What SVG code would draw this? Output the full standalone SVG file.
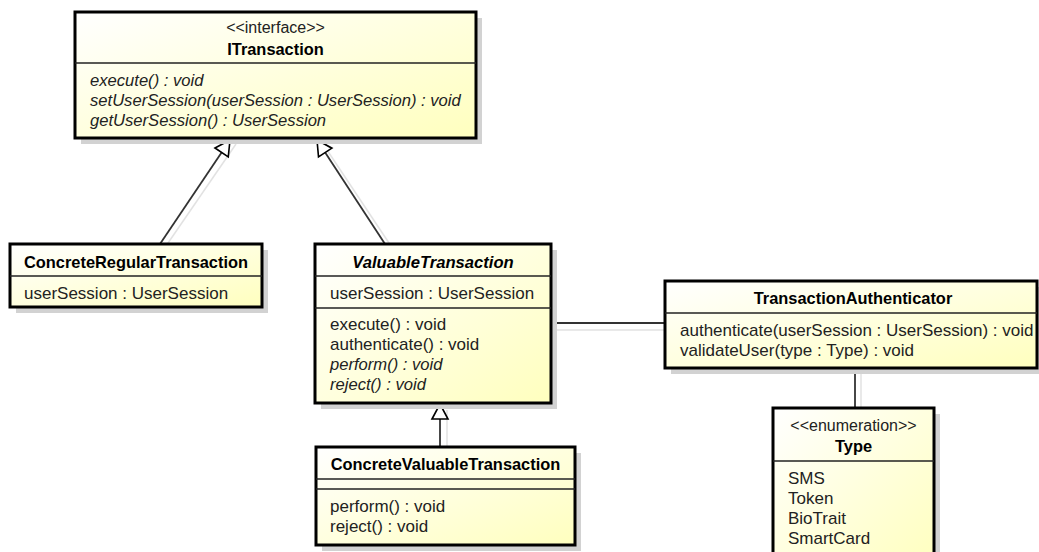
<svg xmlns="http://www.w3.org/2000/svg" width="1039" height="552" viewBox="0 0 1039 552">
<defs>
<linearGradient id="fill" x1="0" y1="0" x2="1" y2="1">
<stop offset="0" stop-color="#ffffff"/>
<stop offset="1" stop-color="#ffffbe"/>
</linearGradient>
<marker id="gen" viewBox="-1 -1 18 18" refX="15" refY="8" markerWidth="18" markerHeight="18" markerUnits="userSpaceOnUse" orient="auto" overflow="visible">
<path d="M0,0 L15,8 L0,16 Z" fill="#ffffff" stroke="#000" stroke-width="1.6" stroke-linejoin="miter"/>
</marker>
</defs>
<style>
.box{fill:url(#fill);stroke:#000;stroke-width:3}
.sh{fill:#d2d2d2}
.div{stroke:#222;stroke-width:1.5}
text{font-family:"Liberation Sans",Arial,sans-serif;font-size:17px;fill:#222}
.st{font-size:16px}
.b{font-weight:bold;fill:#000;font-size:16.4px}
.i{font-style:italic;font-size:16.6px}
.c{text-anchor:middle}
.con{stroke:#333;stroke-width:1.8;fill:none}
.csh{stroke:#e2e2e2;stroke-width:1.5;fill:none}
</style>
<rect width="1039" height="552" fill="#ffffff"/>

<g id="connector-shadows">
<line class="csh" x1="166" y1="246" x2="236" y2="144"/>
<line class="csh" x1="391" y1="246" x2="323" y2="144"/>
<line class="csh" x1="447" y1="449" x2="447" y2="410"/>
<line class="csh" x1="556" y1="330" x2="672" y2="330"/>
<line class="csh" x1="861" y1="370" x2="861" y2="410"/>
</g>

<g id="connectors">
<line class="con" x1="160" y1="244" x2="230" y2="140" marker-end="url(#gen)"/>
<line class="con" x1="385" y1="244" x2="317" y2="140" marker-end="url(#gen)"/>
<line class="con" x1="440" y1="447" x2="440" y2="404" marker-end="url(#gen)"/>
<line class="con" x1="551" y1="323" x2="665" y2="323"/>
<line class="con" x1="855" y1="368" x2="855" y2="408"/>
</g>

<g id="ITransaction">
<rect class="sh" x="81" y="18" width="401" height="126"/>
<rect class="box" x="75" y="12" width="401" height="126"/>
<line class="div" x1="75" y1="63" x2="476" y2="63"/>
<text class="st c" x="275.5" y="33">&lt;&lt;interface&gt;&gt;</text>
<text class="b c" x="275.5" y="54.5">ITransaction</text>
<text class="i" x="90" y="86">execute() : void</text>
<text class="i" x="90" y="106">setUserSession(userSession : UserSession) : void</text>
<text class="i" x="90" y="126">getUserSession() : UserSession</text>
</g>

<g id="ConcreteRegularTransaction">
<rect class="sh" x="16" y="250" width="252" height="63"/>
<rect class="box" x="10" y="244" width="252" height="63"/>
<line class="div" x1="10" y1="276" x2="262" y2="276"/>
<text class="b c" x="136" y="267.5">ConcreteRegularTransaction</text>
<text x="24" y="298.5">userSession : UserSession</text>
</g>

<g id="ValuableTransaction">
<rect class="sh" x="321" y="250" width="236" height="159"/>
<rect class="box" x="315" y="244" width="236" height="159"/>
<line class="div" x1="315" y1="276" x2="551" y2="276"/>
<line class="div" x1="315" y1="308" x2="551" y2="308"/>
<text class="b i c" x="433" y="267.5">ValuableTransaction</text>
<text x="330" y="298.5">userSession : UserSession</text>
<text x="330" y="329.5">execute() : void</text>
<text x="330" y="349.5">authenticate() : void</text>
<text class="i" x="330" y="369.5">perform() : void</text>
<text class="i" x="330" y="389.5">reject() : void</text>
</g>

<g id="ConcreteValuableTransaction">
<rect class="sh" x="322" y="453" width="259" height="98"/>
<rect class="box" x="316" y="447" width="259" height="98"/>
<line class="div" x1="316" y1="479" x2="575" y2="479"/>
<line class="div" x1="316" y1="489" x2="575" y2="489"/>
<text class="b c" x="445.5" y="469.5">ConcreteValuableTransaction</text>
<text x="330" y="512">perform() : void</text>
<text x="330" y="532">reject() : void</text>
</g>

<g id="TransactionAuthenticator">
<rect class="sh" x="671" y="287" width="372" height="87"/>
<rect class="box" x="665" y="281" width="372" height="87"/>
<line class="div" x1="665" y1="313" x2="1037" y2="313"/>
<text class="b c" x="853" y="304">TransactionAuthenticator</text>
<text x="680" y="335.5">authenticate(userSession : UserSession) : void</text>
<text x="680" y="355.5">validateUser(type : Type) : void</text>
</g>

<g id="Type">
<rect class="sh" x="779" y="414" width="161" height="160"/>
<rect class="box" x="773" y="408" width="161" height="160"/>
<line class="div" x1="773" y1="461" x2="934" y2="461"/>
<text class="st c" x="853.5" y="430.5">&lt;&lt;enumeration&gt;&gt;</text>
<text class="b c" x="853.5" y="452">Type</text>
<text x="788" y="483.5">SMS</text>
<text x="788" y="503.5">Token</text>
<text x="788" y="523.5">BioTrait</text>
<text x="788" y="543.5">SmartCard</text>
</g>
</svg>
